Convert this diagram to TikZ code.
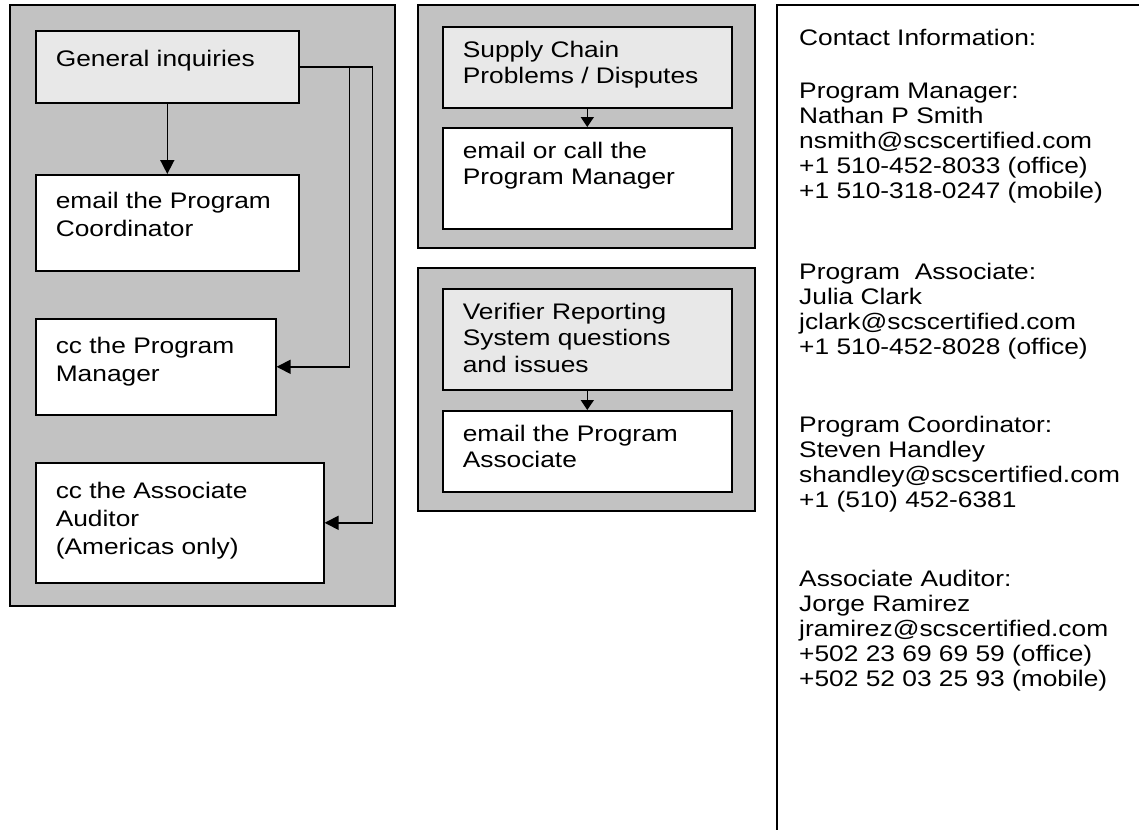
\documentclass[tikz,border=0pt]{standalone}
\usepackage{fontspec}
\setmainfont{Liberation Sans}[FakeStretch=1.17]
\usetikzlibrary{arrows.meta}
\definecolor{panelgray}{RGB}{194,194,194}
\definecolor{headgray}{RGB}{232,232,232}
\newcommand{\boxtext}[3]{\parbox[c][#2pt][t]{#1pt}{\raggedright #3}}

\begin{document}
\begin{tikzpicture}[x=1pt, y=-1pt,
    panel/.style={draw, line width=1.6pt, fill=panelgray},
    box/.style={draw, line width=1.6pt, fill=white, anchor=north west,
        inner xsep=20pt, inner ysep=14pt, font=\fontsize{22.5}{26.5}\selectfont},
    head/.style={box, fill=headgray},
    lbox/.style={box, font=\fontsize{22.5}{28}\selectfont},
    arr/.style={line width=1.6pt, -{Triangle[length=14pt, width=14pt]}},
    short/.style={line width=1.6pt, -{Triangle[length=10pt, width=13pt]}},
    info/.style={anchor=base west, align=left, inner sep=0pt,
        font=\fontsize{22.5}{25}\selectfont}]
    \useasboundingbox (0,0) rectangle (1139,830);
    %panels
    \draw[panel] (10,5) rectangle (395,606);
    \draw[panel] (418,5) rectangle (755,248);
    \draw[panel] (418,268) rectangle (755,511);
    \draw[line width=1.6pt] (1139,5) -- (777,5) -- (777,830);

    %general
    \node[head] (gen) at (35,30) {\boxtext{223}{44}{\vspace*{5pt}General inquiries}};
    \node[lbox] (coord) at (35,174) {\boxtext{223}{68}{\vspace*{3pt}email the Program\\Coordinator}};
    \node[lbox] (manager) at (35,318) {\boxtext{200}{68}{\vspace*{4pt}cc the Program\\Manager}};
    \node[lbox] (auditor) at (35,462) {\boxtext{248}{92}{\vspace*{5pt}cc the Associate\\Auditor\\(Americas only)}};
    \draw[arr] (gen) -- (coord);
    \draw[arr] (gen.east) -- ++(50,0) |- (manager.east);
    \draw[arr] (gen.east) -- ++(73,0) |- (auditor.east);

    %supply chain
    \node[head] (supply) at (442,26) {\boxtext{249}{53}{Supply Chain\\Problems / Disputes}};
    \node[box] (call) at (442,127) {\boxtext{249}{73}{email or call the\\Program Manager}};
    \draw[short] (supply) -- (call);

    %verifier
    \node[head] (verifier) at (442,288) {\boxtext{249}{73}{Verifier Reporting\\System questions\\and issues}};
    \node[box] (assoc) at (442,410) {\boxtext{249}{53}{email the Program\\Associate}};
    \draw[short] (verifier) -- (assoc);

    %contacts (base = last line)
    \node[info] (contact) at (799,45) {Contact Information:};
    \node[info] (pm) at (799,198) {Program Manager:\\Nathan P Smith\\nsmith@scscertified.com\\+1 510-452-8033 (office)\\+1 510-318-0247 (mobile)};
    \node[info] (pa) at (799,354) {Program\ \ Associate:\\Julia Clark\\jclark@scscertified.com\\+1 510-452-8028 (office)};
    \node[info] (pc) at (799,507) {Program Coordinator:\\Steven Handley\\shandley@scscertified.com\\+1 (510) 452-6381};
    \node[info] (aa) at (799,686) {Associate Auditor:\\Jorge Ramirez\\jramirez@scscertified.com\\+502 23 69 69 59 (office)\\+502 52 03 25 93 (mobile)};
\end{tikzpicture}
\end{document}
